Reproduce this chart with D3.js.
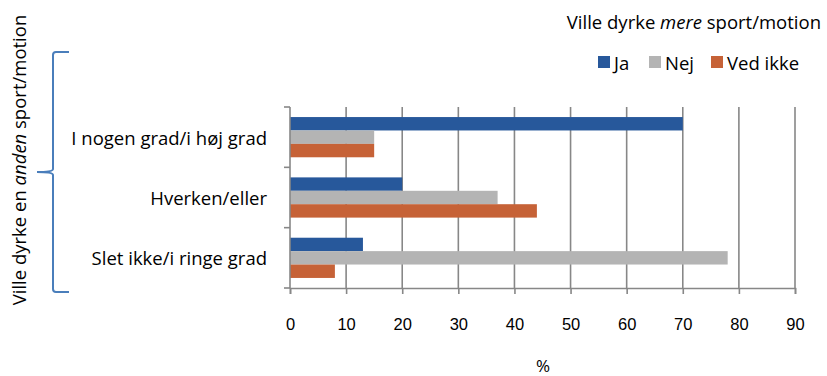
<!DOCTYPE html>
<html>
<head>
<meta charset="utf-8">
<script src="https://cdn.jsdelivr.net/npm/d3@7"></script>
<style>
  html, body { margin: 0; padding: 0; background: #fff; }
  svg { display: block; font-family: "Open Sans", "Liberation Sans", sans-serif; }
</style>
</head>
<body>
<svg id="chart" width="827" height="376"></svg>
<script>
// Categories (top to bottom) and series
const categories = ["I nogen grad/i høj grad", "Hverken/eller", "Slet ikke/i ringe grad"];
const seriesNames = ["Ja", "Nej", "Ved ikke"];
const ja = [70, 20, 13];
const nej = [15, 37, 78];
const vedIkke = [15, 44, 8];
const xTicks = [0, 10, 20, 30, 40, 50, 60, 70, 80, 90];
const colors = ["#27589b", "#b4b4b4", "#c66237"];

const values = [ja, nej, vedIkke];
const svg = d3.select("#chart");
const fontSize = 18.5;
const tickFont = 16.5;

const margin = { left: 290, right: 32, top: 107, bottom: 88 };
const W = 827, H = 376;
const x = d3.scaleLinear().domain([0, 90]).range([margin.left, W - margin.right]);
const y = d3.scaleBand().domain(categories).range([margin.top, H - margin.bottom]);
const inner = d3.scaleBand().domain(seriesNames).range([0, y.bandwidth()]).paddingOuter(0.75).paddingInner(0);

const gridColor = "#878787";

// vertical gridlines
svg.append("g").selectAll("line").data(xTicks.slice(1)).join("line")
  .attr("x1", d => x(d)).attr("x2", d => x(d))
  .attr("y1", margin.top).attr("y2", H - margin.bottom)
  .attr("stroke", gridColor).attr("stroke-width", 1.6);

// bars
const groups = svg.append("g").selectAll("g").data(categories).join("g")
  .attr("transform", c => `translate(0,${y(c)})`);
groups.selectAll("rect")
  .data((c, ci) => seriesNames.map((s, si) => ({ s, si, v: values[si][ci] })))
  .join("rect")
  .attr("x", x(0))
  .attr("y", d => inner(d.s))
  .attr("width", d => x(d.v) - x(0))
  .attr("height", inner.bandwidth())
  .attr("fill", d => colors[d.si]);

// bottom axis
const xAxis = d3.axisBottom(x).tickValues(xTicks).tickSize(6).tickPadding(24).tickFormat(d3.format("d"));
const gx = svg.append("g").attr("transform", `translate(0,${H - margin.bottom})`).call(xAxis);
gx.select(".domain").attr("stroke", gridColor).attr("stroke-width", 1.6);
gx.selectAll(".tick line").attr("stroke", gridColor).attr("stroke-width", 1.6);
gx.selectAll(".tick text").attr("font-size", tickFont).attr("fill", "#000")
  .style("font-family", "inherit");

// left axis: category boundaries as ticks
const yEdges = categories.map(c => y(c)).concat([y.range()[1]]);
const gy = svg.append("g");
gy.append("line").attr("x1", x(0)).attr("x2", x(0))
  .attr("y1", margin.top).attr("y2", H - margin.bottom)
  .attr("stroke", gridColor).attr("stroke-width", 1.6);
gy.selectAll("line.tk").data(yEdges).join("line").attr("class", "tk")
  .attr("x1", x(0) - 6).attr("x2", x(0))
  .attr("y1", d => d).attr("y2", d => d)
  .attr("stroke", gridColor).attr("stroke-width", 1.6);
gy.selectAll("text").data(categories).join("text")
  .attr("x", x(0) - 23)
  .attr("y", c => y(c) + y.bandwidth() / 2)
  .attr("text-anchor", "end").attr("dominant-baseline", "central")
  .attr("font-size", fontSize).text(c => c);

// x axis title
svg.append("text").attr("x", 543).attr("y", 365).attr("text-anchor", "middle")
  .attr("dominant-baseline", "central").attr("font-size", 17).text("%");

// legend title
const lt = svg.append("text").attr("x", 821).attr("y", 21).attr("text-anchor", "end")
  .attr("dominant-baseline", "central").attr("font-size", fontSize);
lt.append("tspan").text("Ville dyrke ");
lt.append("tspan").attr("font-style", "italic").text("mere");
lt.append("tspan").text(" sport/motion");

// legend items
const legendX = [598, 649, 711];
const leg = svg.append("g").selectAll("g").data(seriesNames).join("g")
  .attr("transform", (d, i) => `translate(${legendX[i]},56)`);
leg.append("rect").attr("width", 12).attr("height", 12).attr("fill", (d, i) => colors[i]);
leg.append("text").attr("x", 16).attr("y", 6).attr("dominant-baseline", "central")
  .attr("font-size", fontSize).text(d => d);

// rotated title for the category axis
const yt = svg.append("text")
  .attr("transform", "translate(18,160) rotate(-90)")
  .attr("text-anchor", "middle").attr("dominant-baseline", "central")
  .attr("font-size", fontSize);
yt.append("tspan").text("Ville dyrke en ");
yt.append("tspan").attr("font-style", "italic").text("anden");
yt.append("tspan").text(" sport/motion");

// brace spanning all categories
const bTop = 52, bBot = 292, bMid = 172, bx = 53, bTip = 37, bEnd = 69;
const brace = d3.path();
brace.moveTo(bEnd, bTop);
brace.lineTo(bx + 3, bTop);
brace.quadraticCurveTo(bx, bTop, bx, bTop + 3);
brace.lineTo(bx, bMid - 3);
brace.quadraticCurveTo(bx, bMid, bTip, bMid);
brace.quadraticCurveTo(bx, bMid, bx, bMid + 3);
brace.lineTo(bx, bBot - 3);
brace.quadraticCurveTo(bx, bBot, bx + 3, bBot);
brace.lineTo(bEnd, bBot);
svg.append("path").attr("d", brace.toString()).attr("fill", "none")
  .attr("stroke", "#4a7ebb").attr("stroke-width", 2);
</script>
</body>
</html>
